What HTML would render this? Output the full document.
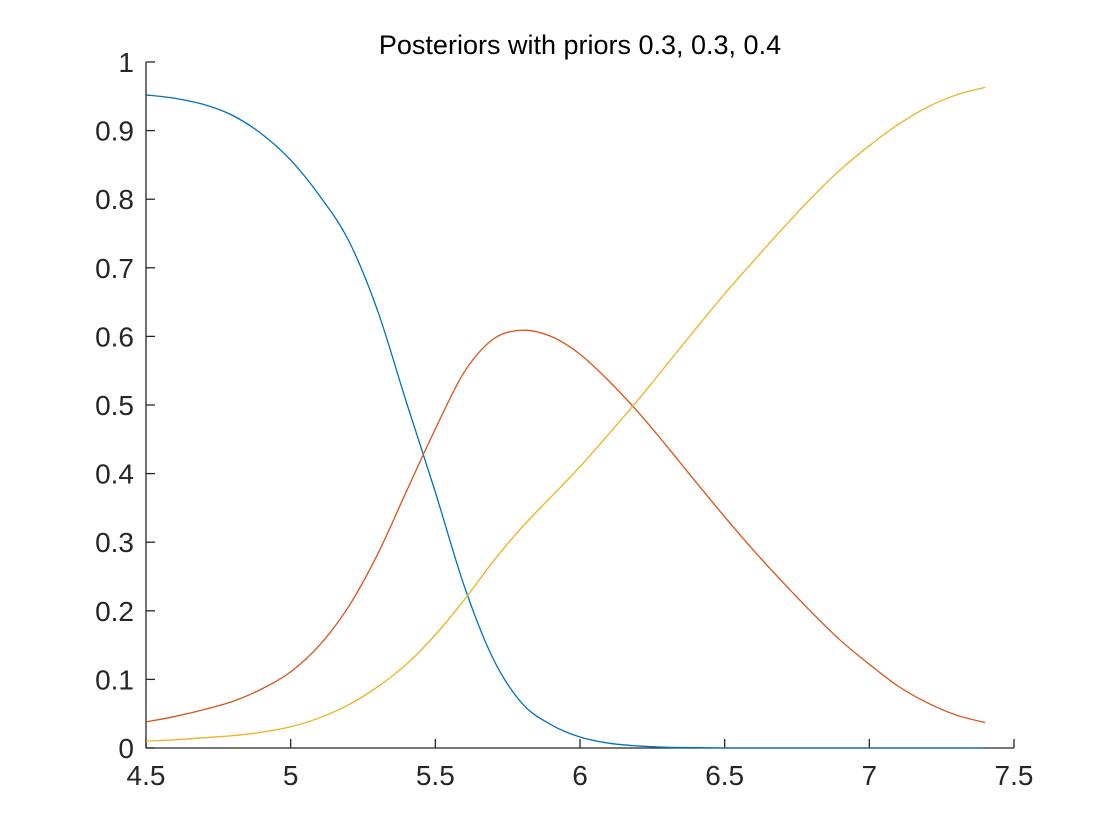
<!DOCTYPE html>
<html><head><meta charset="utf-8"><style>
html,body{margin:0;padding:0;background:#fff;}
svg{display:block;font-family:"Liberation Sans",Arial,sans-serif;}
</style></head><body>
<svg id="chart" width="1120" height="840" viewBox="0 0 1120 840">
<rect width="1120" height="840" fill="#fff"/>
<text x="580" y="54" text-anchor="middle" font-size="27" fill="#000">Posteriors with priors 0.3, 0.3, 0.4</text>
<g id="axes"></g>
<g id="series"></g>
</svg>
<script>
const xVals = [4.5,4.6,4.7,4.8,4.9,5.0,5.1,5.2,5.3,5.4,5.5,5.6,5.7,5.8,5.9,6.0,6.1,6.2,6.3,6.4,6.5,6.6,6.7,6.8,6.9,7.0,7.1,7.2,7.3,7.4];
const class1 = [0.952,0.947,0.938,0.922,0.895,0.857,0.805,0.74,0.638,0.504,0.373,0.236,0.13,0.065,0.034,0.016,0.007,0.003,0.001,0.0005,0,0,0,0,0,0,0,0,0,0];
const class2 = [0.038,0.046,0.056,0.068,0.086,0.111,0.15,0.206,0.282,0.374,0.465,0.548,0.596,0.609,0.60,0.574,0.535,0.49,0.44,0.388,0.337,0.288,0.242,0.198,0.157,0.122,0.09,0.066,0.048,0.037];
const class3 = [0.01,0.012,0.015,0.018,0.023,0.031,0.044,0.063,0.089,0.122,0.165,0.216,0.272,0.322,0.366,0.41,0.458,0.507,0.559,0.611,0.662,0.71,0.757,0.802,0.843,0.878,0.909,0.934,0.952,0.963];
const xTicks = [4.5,5,5.5,6,6.5,7,7.5];
const yTicks = [0,0.1,0.2,0.3,0.4,0.5,0.6,0.7,0.8,0.9,1];
const xTickLabels = ["4.5","5","5.5","6","6.5","7","7.5"];
const yTickLabels = ["0","0.1","0.2","0.3","0.4","0.5","0.6","0.7","0.8","0.9","1"];

const NS="http://www.w3.org/2000/svg";
const X0=146,X1=1014,Y0=748,Y1=62;
const sx=v=>X0+(v-4.5)/(7.5-4.5)*(X1-X0);
const sy=v=>Y0-(v-0)/(1-0)*(Y0-Y1);
function mk(t,a,p){const e=document.createElementNS(NS,t);for(const k in a)e.setAttribute(k,a[k]);p.appendChild(e);return e;}
const axes=document.getElementById('axes');
const yl=mk('line',{x1:X0,y1:Y0,x2:X0,y2:Y1,stroke:'#262626','stroke-width':1.3},axes);


const xl=mk('line',{x1:X0,y1:Y0,x2:X1,y2:Y0,stroke:'#262626','stroke-width':1.3},axes);


xTicks.forEach((v,i)=>{
  const t=mk('line',{x1:sx(v),y1:Y0,x2:sx(v),y2:Y0-9,stroke:'#262626','stroke-width':1.3},axes);
  
  
  const l=mk('text',{x:sx(v),y:Y0+37,'text-anchor':'middle','font-size':28,fill:'#262626'},axes);
  l.textContent=xTickLabels[i];
  
  
});
yTicks.forEach((v,i)=>{
  const t=mk('line',{x1:X0,y1:sy(v),x2:X0+9,y2:sy(v),stroke:'#262626','stroke-width':1.3},axes);
  
  
  const l=mk('text',{x:X0-12,y:sy(v)+10,'text-anchor':'end','font-size':28,fill:'#262626'},axes);
  l.textContent=yTickLabels[i];
  
  
});
const series=document.getElementById('series');
function path(vals){
  const p=xVals.map((x,i)=>[sx(x),sy(vals[i])]);
  let d='M'+p[0][0]+','+p[0][1];
  for(let i=0;i<p.length-1;i++){
    const p0=p[Math.max(0,i-1)],p1=p[i],p2=p[i+1],p3=p[Math.min(p.length-1,i+2)];
    const c1=[p1[0]+(p2[0]-p0[0])/6,p1[1]+(p2[1]-p0[1])/6];
    const c2=[p2[0]-(p3[0]-p1[0])/6,p2[1]-(p3[1]-p1[1])/6];
    d+=' C'+c1+' '+c2+' '+p2;
  }
  return d;
}
const s1=mk('path',{d:path(class1),fill:'none',stroke:'#0072BD','stroke-width':1.3},series);


const s2=mk('path',{d:path(class2),fill:'none',stroke:'#D95319','stroke-width':1.3},series);


const s3=mk('path',{d:path(class3),fill:'none',stroke:'#EDB120','stroke-width':1.3},series);


</script>
</body></html>
